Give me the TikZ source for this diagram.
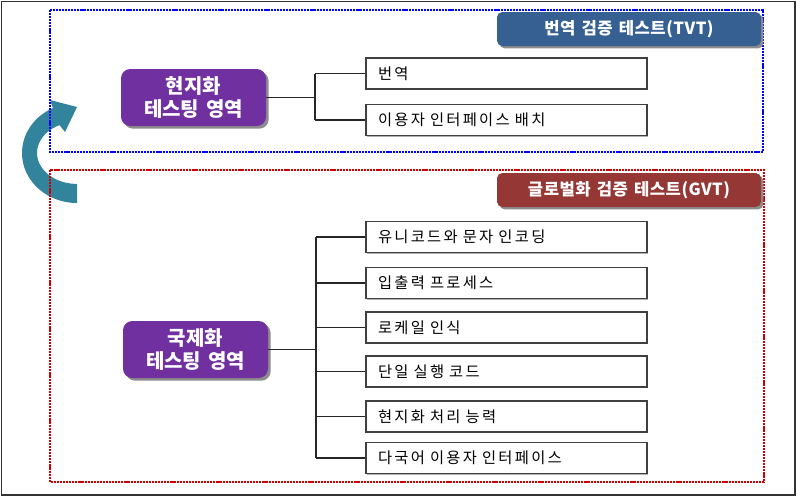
\documentclass[tikz,border=0pt]{standalone}
\usepackage{fontspec}
\newfontfamily\krfont{Noto Sans CJK KR}[LetterSpace=15, WordSpace=2]
\newfontfamily\krhead{Noto Sans CJK KR}[LetterSpace=3, WordSpace=1.4]
\newfontfamily\krarea{Noto Sans CJK KR}[WordSpace=1.5]
\usetikzlibrary{shadows}
\definecolor{purpleA}{HTML}{7030A0}
\definecolor{tvtblue}{HTML}{366092}
\definecolor{gvtred}{HTML}{953735}
\definecolor{arrowteal}{HTML}{31849B}
\definecolor{dotred}{HTML}{CC0000}
\definecolor{dotblue}{HTML}{0000FF}
\tikzset{
  areabox/.style={fill=purpleA, text=white, rounded corners=7pt, minimum width=108.75pt, minimum height=42.75pt, inner sep=0pt, align=center, font=\krarea\bfseries\fontsize{15}{17.5}\selectfont, general shadow={fill=black!45, shadow xshift=2pt, shadow yshift=-2pt}},
  headbox/.style={text=white, rounded corners=4pt, minimum width=198pt, minimum height=25.5pt, inner sep=0pt, font=\krhead\bfseries\fontsize{12.5}{14}\selectfont, general shadow={fill=black!45, shadow xshift=1.8pt, shadow yshift=-1.8pt}},
  itembox/.style={draw=black!75, line width=0.9pt, fill=white, text width=192.75pt, inner xsep=9pt, inner ysep=0pt, minimum height=23.25pt, align=left, font=\krfont\fontsize{11.5}{13.5}\selectfont, general shadow={fill=black!30, shadow xshift=0.8pt, shadow yshift=-0.8pt}},
  zone/.style={line width=1.1pt, dash pattern=on 1.6pt off 0.7pt},
  link/.style={draw=black!85, line width=0.8pt}
}
\begin{document}
\begin{tikzpicture}[x=0.75pt,y=-0.75pt]
\useasboundingbox (0,0) rectangle (797,497);
\draw[black!80, line width=1.3pt] (1.5,1.5) rectangle (795,495);
% curved arrow
\fill[arrowteal] (77,203) arc[start angle=90, end angle=244, x radius=55, y radius=50]
  -- (50,100) -- (77,107) -- (65,132) -- (59.5,125.1)
  arc[start angle=244, end angle=90, x radius=40, y radius=31] -- cycle;
% zones
\draw[zone, dotblue] (50,10) rectangle (763,152);
\draw[zone, dotred] (50,170) rectangle (764,482);
% headers
\node[headbox, fill=tvtblue] (tvt) at (629,29) {번역 검증 테스트(TVT)};
\node[headbox, fill=gvtred] (gvt) at (629,190) {글로벌화 검증 테스트(GVT)};
% area nodes
\node[areabox] (loc) at (193.5,97.5) {현지화\\테스팅 영역};
\node[areabox] (int) at (195.5,349.5) {국제화\\테스팅 영역};
% top items
\node[itembox] (t1) at (506.5,73.5) {번역};
\node[itembox] (t2) at (506.5,120) {이용자 인터페이스 배치};
% bottom items
\node[itembox] (b1) at (506.5,237) {유니코드와 문자 인코딩};
\node[itembox] (b2) at (506.5,283) {입출력 프로세스};
\node[itembox] (b3) at (506.5,327.5) {로케일 인식};
\node[itembox] (b4) at (506.5,371.5) {단일 실행 코드};
\node[itembox] (b5) at (506.5,416.5) {현지화 처리 능력};
\node[itembox] (b6) at (506.5,458) {다국어 이용자 인터페이스};
% connectors top
\coordinate (s1) at (315,97.5);
\draw[link] (loc.east) -- (s1);
\draw[link] (s1 |- t1.west) -- (s1 |- t2.west);
\draw[link] (s1 |- t1.west) -- (t1.west);
\draw[link] (s1 |- t2.west) -- (t2.west);
% connectors bottom
\coordinate (s2) at (316,349.5);
\draw[link] (int.east) -- (s2);
\draw[link] (s2 |- b1.west) -- (s2 |- b6.west);
\foreach \b in {b1,b2,b3,b4,b5,b6} {
  \draw[link] (s2 |- \b.west) -- (\b.west);
}
\end{tikzpicture}
\end{document}
